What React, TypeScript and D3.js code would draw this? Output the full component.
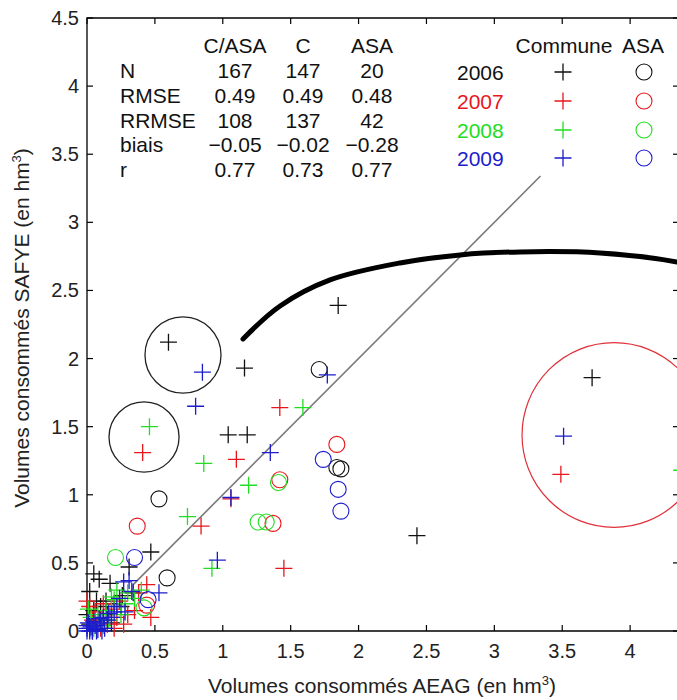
import React from "react";
import * as d3 from "d3";

type Pt = [number, number];

// Volumes per commune (plus markers) and per ASA (circles), one list per year
const commune2006: Pt[] = [
  [0.6, 2.12], [1.16, 1.93], [1.85, 2.39], [3.72, 1.86], [1.04, 1.44], [1.18, 1.44],
  [2.43, 0.7], [0.47, 0.58], [0.31, 0.47], [0.05, 0.42], [0.09, 0.38], [0.17, 0.35],
  [0.02, 0.29], [0.26, 0.26], [0.34, 0.28], [0.05, 0.15], [0.1, 0.18], [0.15, 0.12],
  [0.2, 0.2], [0.02, 0.05], [0.12, 0.08], [0.25, 0.18], [0.07, 0.22], [0.0, 0.12],
  [0.18, 0.06], [0.04, 0.0], [0.14, 0.22],
];
const asa2006: Pt[] = [[1.71, 1.92], [1.84, 1.2], [1.87, 1.19], [0.53, 0.97], [0.59, 0.39]];

const commune2007: Pt[] = [
  [0.41, 1.31], [1.1, 1.26], [1.42, 1.64], [0.84, 0.77], [1.45, 0.46], [3.49, 1.15],
  [1.06, 0.97], [0.44, 0.34], [0.47, 0.1], [0.02, 0.18], [0.06, 0.14], [0.12, 0.2],
  [0.18, 0.16], [0.22, 0.1], [0.27, 0.05], [0.3, 0.12], [0.35, 0.15], [0.1, 0.02],
  [0.15, 0.05], [0.04, 0.08], [0.24, 0.22], [0.38, 0.28], [0.0, 0.22], [0.2, 0.02],
];
const asa2007: Pt[] = [[1.84, 1.37], [1.42, 1.11], [1.37, 0.79], [0.37, 0.77], [0.44, 0.19]];

const commune2008: Pt[] = [
  [0.46, 1.5], [0.86, 1.23], [1.59, 1.64], [1.19, 1.07], [0.74, 0.84], [0.92, 0.46],
  [4.38, 1.18], [0.35, 0.24], [0.2, 0.23], [0.03, 0.1], [0.08, 0.12], [0.14, 0.15],
  [0.18, 0.25], [0.22, 0.3], [0.28, 0.2], [0.05, 0.02], [0.12, 0.04], [0.3, 0.28],
  [0.25, 0.12], [0.4, 0.3], [0.01, 0.16], [0.16, 0.08],
];
const asa2008: Pt[] = [[1.41, 1.09], [1.26, 0.8], [1.32, 0.8], [0.21, 0.54], [0.42, 0.17]];

const commune2009: Pt[] = [
  [0.85, 1.9], [0.8, 1.65], [1.35, 1.31], [1.77, 1.88], [1.06, 0.98], [0.96, 0.52],
  [3.51, 1.43], [0.53, 0.28], [0.27, 0.36], [0.31, 0.37], [0.33, 0.29], [0.0, 0.0],
  [0.02, 0.02], [0.04, 0.0], [0.06, 0.04], [0.01, 0.06], [0.08, 0.01], [0.1, 0.06],
  [0.12, 0.1], [0.15, 0.08], [0.18, 0.1], [0.2, 0.14], [0.22, 0.18], [0.03, 0.03],
  [0.05, 0.07], [0.0, 0.04], [0.07, 0.0], [0.13, 0.02], [0.16, 0.13], [0.24, 0.24],
  [0.28, 0.14], [0.09, 0.09], [0.11, 0.0], [0.02, 0.0], [0.0, 0.02],
];
const asa2009: Pt[] = [[1.74, 1.26], [1.85, 1.04], [1.87, 0.88], [0.35, 0.54], [0.45, 0.23]];

const years = ["2006", "2007", "2008", "2009"];
const yearColors = ["#111111", "#e8161c", "#22dd22", "#1c1ccc"];
const communeByYear = [commune2006, commune2007, commune2008, commune2009];
const asaByYear = [asa2006, asa2007, asa2008, asa2009];

// Statistics table
const statColumns = ["C/ASA", "C", "ASA"];
const statRows = ["N", "RMSE", "RRMSE", "biais", "r"];
const statValues = [
  ["167", "147", "20"],
  ["0.49", "0.49", "0.48"],
  ["108", "137", "42"],
  ["\u22120.05", "\u22120.02", "\u22120.28"],
  ["0.77", "0.73", "0.77"],
];

const xTicks = [0, 0.5, 1, 1.5, 2, 2.5, 3, 3.5, 4];
const yTicks = [0, 0.5, 1, 1.5, 2, 2.5, 3, 3.5, 4, 4.5];

// 1:1 reference segment
const diagonal: Pt[] = [[0.34, 0.34], [3.34, 3.34]];

// Highlight circles: [cx, cy, radius] in data units
const blackRings: [number, number, number][] = [
  [0.707, 2.026, 0.28],
  [0.42, 1.424, 0.258],
];
const redRing: [number, number, number] = [3.882, 1.439, 0.678];

// Hand-drawn arc over the plot
const arcPath: Pt[] = [
  [1.149, 2.144], [1.422, 2.386], [1.79, 2.577], [2.306, 2.702], [2.748, 2.761],
  [3.19, 2.783], [3.779, 2.775], [4.346, 2.709], [4.515, 2.665],
];

const W = 677;
const H = 700;
const FONT = "'Liberation Sans', Arial, Helvetica, sans-serif";

export default function App() {
  const x = d3.scaleLinear().domain([0, 4.36]).range([87, 679]);
  const y = d3.scaleLinear().domain([0, 4.5]).range([631, 18]);
  const left = x(0), right = x(4.36), top = y(4.5), bottom = y(0);
  const tick = 6;
  const ps = 8.5; // plus half-size
  const cr = 8; // circle radius

  const line = d3.line<Pt>().x((d) => x(d[0])).y((d) => y(d[1]));
  const arcLine = d3.line<Pt>().x((d) => x(d[0])).y((d) => y(d[1])).curve(d3.curveCatmullRom);

  const plus = (cx: number, cy: number, color: string, key: string) => (
    <path
      key={key}
      d={`M${cx - ps},${cy}H${cx + ps}M${cx},${cy - ps}V${cy + ps}`}
      stroke={color}
      strokeWidth={1.3}
      fill="none"
    />
  );

  const rows = [52.5, 78, 103, 127.5, 152, 176.5];
  const colX = [235, 303, 372];
  const legendRows = [79.5, 108.5, 137.5, 165.5];

  return (
    <svg
      width={W}
      height={H}
      style={{ position: "absolute", left: 0, top: 0, background: "#fff" }}
      fontFamily={FONT}
    >
      <rect x={0} y={0} width={W} height={H} fill="#fff" />

      {/* frame */}
      <path
        d={`M${left},${top}H${right}V${bottom}H${left}Z`}
        fill="none"
        stroke="#000"
        strokeWidth={1.3}
      />
      {xTicks.map((t) => (
        <g key={"xt" + t}>
          <line x1={x(t)} x2={x(t)} y1={bottom} y2={bottom - tick} stroke="#000" strokeWidth={1.2} />
          <line x1={x(t)} x2={x(t)} y1={top} y2={top + tick} stroke="#000" strokeWidth={1.2} />
          <text x={x(t)} y={658} fontSize={20} textAnchor="middle" fill="#222">
            {String(t)}
          </text>
        </g>
      ))}
      {yTicks.map((t) => (
        <g key={"yt" + t}>
          <line x1={left} x2={left + tick} y1={y(t)} y2={y(t)} stroke="#000" strokeWidth={1.2} />
          <line x1={right} x2={right - tick} y1={y(t)} y2={y(t)} stroke="#000" strokeWidth={1.2} />
          <text x={79} y={y(t) + 7} fontSize={20} textAnchor="end" fill="#222">
            {String(t)}
          </text>
        </g>
      ))}

      {/* axis titles */}
      <text x={382} y={693} fontSize={21} textAnchor="middle" fill="#222">
        Volumes consommés AEAG (en hm
        <tspan dy={-8} fontSize={13}>3</tspan>
        <tspan dy={8}>)</tspan>
      </text>
      <text
        transform={`translate(29,328) rotate(-90)`}
        fontSize={21}
        textAnchor="middle"
        fill="#222"
      >
        Volumes consommés SAFYE (en hm
        <tspan dy={-8} fontSize={13}>3</tspan>
        <tspan dy={8}>)</tspan>
      </text>

      {/* 1:1 line */}
      <path d={line(diagonal) || ""} stroke="#7a7a7a" strokeWidth={1.6} fill="none" />

      {/* data */}
      {years.map((yr, i) => (
        <g key={yr}>
          {communeByYear[i].map((d, j) => plus(x(d[0]), y(d[1]), yearColors[i], `c${yr}-${j}`))}
          {asaByYear[i].map((d, j) => (
            <circle
              key={`a${yr}-${j}`}
              cx={x(d[0])}
              cy={y(d[1])}
              r={cr}
              fill="none"
              stroke={yearColors[i]}
              strokeWidth={1.1}
            />
          ))}
        </g>
      ))}

      {/* highlight rings */}
      {blackRings.map((c, i) => (
        <ellipse
          key={"ring" + i}
          cx={x(c[0])}
          cy={y(c[1])}
          rx={x(c[2]) - x(0)}
          ry={y(0) - y(c[2])}
          fill="none"
          stroke="#222"
          strokeWidth={1.3}
        />
      ))}
      <ellipse
        cx={x(redRing[0])}
        cy={y(redRing[1])}
        rx={x(redRing[2]) - x(0)}
        ry={y(0) - y(redRing[2])}
        fill="none"
        stroke="#e0303a"
        strokeWidth={1.2}
      />
      <path
        d={arcLine(arcPath) || ""}
        fill="none"
        stroke="#000"
        strokeWidth={5}
        strokeLinecap="round"
      />

      {/* statistics table */}
      {statColumns.map((c, i) => (
        <text key={"col" + c} x={colX[i]} y={rows[0]} fontSize={21} textAnchor="middle" fill="#111">
          {c}
        </text>
      ))}
      {statRows.map((r, i) => (
        <g key={"row" + r}>
          <text x={120} y={rows[i + 1]} fontSize={21} fill="#111">
            {r}
          </text>
          {statValues[i].map((v, j) => (
            <text key={j} x={colX[j]} y={rows[i + 1]} fontSize={21} textAnchor="middle" fill="#111">
              {v}
            </text>
          ))}
        </g>
      ))}

      {/* legend */}
      <text x={564} y={52.5} fontSize={21} textAnchor="middle" fill="#111">
        Commune
      </text>
      <text x={643} y={52.5} fontSize={21} textAnchor="middle" fill="#111">
        ASA
      </text>
      {years.map((yr, i) => (
        <g key={"leg" + yr}>
          <text x={457} y={legendRows[i]} fontSize={21} fill={yearColors[i]}>
            {yr}
          </text>
          {plus(563, legendRows[i] - 7.5, yearColors[i], "lp" + yr)}
          <circle cx={644} cy={legendRows[i] - 7.5} r={cr} fill="none" stroke={yearColors[i]} strokeWidth={1.1} />
        </g>
      ))}
    </svg>
  );
}
